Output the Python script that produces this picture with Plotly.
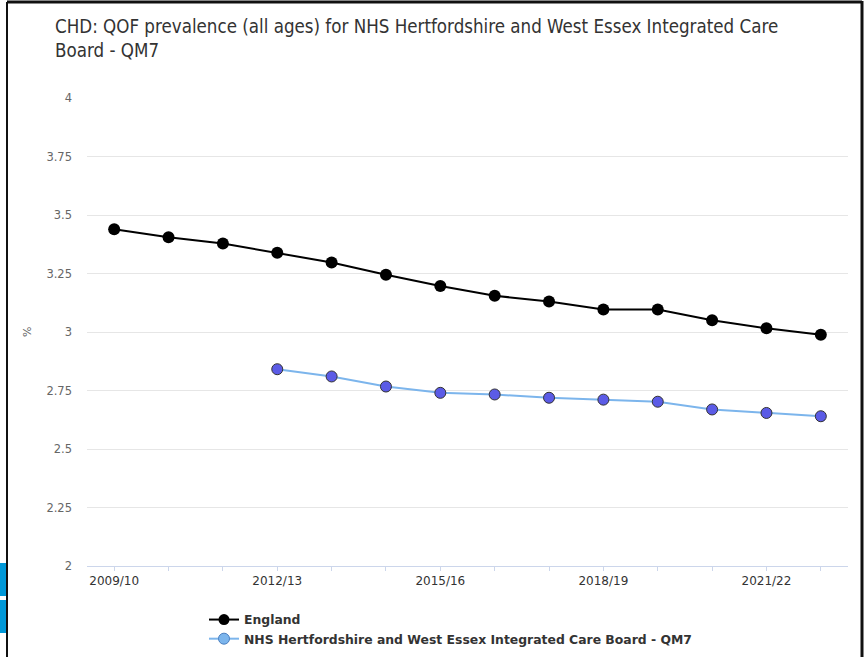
import plotly.graph_objects as go

categories = ["2009/10", "2010/11", "2011/12", "2012/13", "2013/14", "2014/15", "2015/16",
              "2016/17", "2017/18", "2018/19", "2019/20", "2020/21", "2021/22", "2022/23"]
england = [3.439, 3.405, 3.378, 3.339, 3.297, 3.245, 3.197, 3.155, 3.130, 3.096, 3.096, 3.050, 3.016, 2.988]
region_categories = categories[3:]
region = [2.841, 2.810, 2.767, 2.740, 2.733, 2.719, 2.711, 2.702, 2.669, 2.654, 2.640]
tick_labels = ["2009/10", "", "", "2012/13", "", "", "2015/16", "", "", "2018/19", "", "", "2021/22", ""]
y_ticks = [2, 2.25, 2.5, 2.75, 3, 3.25, 3.5, 3.75, 4]

title = "CHD: QOF prevalence (all ages) for NHS Hertfordshire and West Essex Integrated Care<br>Board - QM7"
name_eng = "England"
name_reg = "NHS Hertfordshire and West Essex Integrated Care Board - QM7"

fig = go.Figure()
fig.add_trace(go.Scatter(x=categories, y=england, mode="lines+markers", showlegend=False,
                         line=dict(color="#000000", width=2),
                         marker=dict(color="#000000", size=12, line=dict(color="#000000", width=0)),
                         name=name_eng))
fig.add_trace(go.Scatter(x=region_categories, y=region, mode="lines+markers", showlegend=False,
                         line=dict(color="#7cb5ec", width=2),
                         marker=dict(color="#5b5be6", size=11, line=dict(color="#333333", width=1)),
                         name=name_reg))
# legend entries
fig.add_trace(go.Scatter(x=[None], y=[None], mode="lines+markers", name=name_eng,
                         line=dict(color="#000000", width=2),
                         marker=dict(color="#000000", size=11)))
fig.add_trace(go.Scatter(x=[None], y=[None], mode="lines+markers", name=name_reg,
                         line=dict(color="#7cb5ec", width=2),
                         marker=dict(color="#7cb5ec", size=11, line=dict(color="#4a7fc0", width=1))))

W, H = 864, 657
L, R, T, B = 87, 864 - 848, 98, 657 - 566
pw = W - L - R
ph = H - T - B


def px(x):
    return (x - L) / pw


def py(y):
    return (H - B - y) / ph


fig.update_layout(
    width=W, height=H,
    margin=dict(l=L, r=R, t=T, b=B, autoexpand=False),
    paper_bgcolor="white", plot_bgcolor="white",
    font=dict(family="DejaVu Sans", color="#333333"),
    title=dict(text=title, x=55 / W, xanchor="left", y=1 - 33 / H, yanchor="top",
               xref="container", yref="container",
               font=dict(family="DejaVu Sans Condensed", size=18.6, color="#333333")),
    xaxis=dict(type="category", categoryorder="array", categoryarray=categories,
               range=[-0.5, len(categories) - 0.5],
               tickmode="array", tickvals=categories, ticktext=tick_labels,
               ticks="outside", ticklen=4, tickcolor="#ccd6eb",
               showline=True, linecolor="#ccd6eb", linewidth=1,
               showgrid=False, zeroline=False,
               tickfont=dict(family="DejaVu Sans", size=12, color="#333333")),
    yaxis=dict(range=[2, 4], tickmode="array", tickvals=y_ticks,
               ticktext=[f"{v:g}" for v in y_ticks],
               showgrid=True, gridcolor="#e6e6e6", gridwidth=1, zeroline=False,
               showline=False, ticks="", ticklabelstandoff=14,
               tickfont=dict(family="DejaVu Sans", size=11.5, color="#666666")),
    legend=dict(xref="container", yref="container", x=204 / W, y=1 - 605 / H,
                xanchor="left", yanchor="top", bgcolor="rgba(0,0,0,0)",
                font=dict(family="DejaVu Sans", size=12.4, color="#333333", weight="bold"),
                tracegroupgap=0, itemwidth=30),
    annotations=[dict(text="%", xref="paper", yref="paper", x=px(27), y=py(332),
                      xanchor="center", yanchor="middle",
                      showarrow=False, textangle=-90,
                      font=dict(family="DejaVu Sans", size=11, color="#666666"))],
    shapes=[
        dict(type="line", xref="paper", yref="paper", x0=px(7), x1=px(7), y0=py(2), y1=py(657),
             line=dict(color="#111111", width=2)),
        dict(type="line", xref="paper", yref="paper", x0=px(7), x1=px(862), y0=py(2), y1=py(2),
             line=dict(color="#111111", width=3)),
        dict(type="line", xref="paper", yref="paper", x0=px(862), x1=px(862), y0=py(1), y1=py(657),
             line=dict(color="#111111", width=3)),
        dict(type="rect", xref="paper", yref="paper", x0=px(0), x1=px(6), y0=py(563), y1=py(596),
             line=dict(width=0), fillcolor="#0098d8"),
        dict(type="rect", xref="paper", yref="paper", x0=px(0), x1=px(6), y0=py(600), y1=py(633),
             line=dict(width=0), fillcolor="#0098d8"),
    ],
)

fig.write_html("out.html", config={"displayModeBar": False},
               post_script="document.body.style.margin='0';document.body.style.overflow='hidden';")
